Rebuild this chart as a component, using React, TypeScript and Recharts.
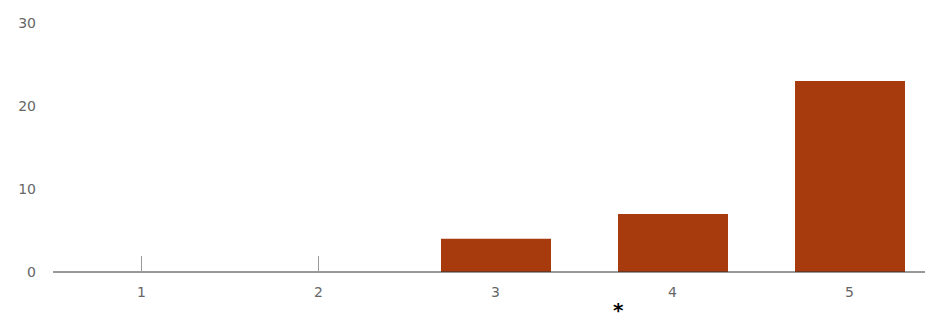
import React from "react";
import { BarChart, Bar, XAxis, YAxis } from "recharts";

const categories = ["1", "2", "3", "4", "5"];
const counts = [0, 0, 4, 7, 23];
const yTicks = [0, 10, 20, 30];

const data = categories.map((c, i) => ({ name: c, value: counts[i] }));

const FONT = "DejaVu Sans, sans-serif";
const tickStyle = { fontFamily: FONT, fontSize: 14, fill: "#666" };

const TICK_LEN = 16;
const TICK_GAP = 15;

function XTick(props: any) {
  const { x, y, payload, index } = props;
  const axisY = y - TICK_GAP;
  const showLine = counts[index] === 0;
  return (
    <g>
      {showLine && (
        <line x1={x} x2={x} y1={axisY - TICK_LEN} y2={axisY} stroke="#999" strokeWidth={1} />
      )}
      <text x={x} y={y} dy="0.71em" textAnchor="middle" fontFamily={FONT} fontSize={14} fill="#666">
        {payload.value}
      </text>
    </g>
  );
}

export default function App() {
  return (
    <div style={{ position: "fixed", left: 0, top: 0, width: 925, height: 318, overflow: "hidden", background: "#fff" }}>
      <BarChart
        width={938}
        height={318}
        data={data}
        margin={{ top: 23, right: 0, left: 0, bottom: 16 }}
        barCategoryGap={0}
      >
        <YAxis
          width={53}
          domain={[0, 30]}
          ticks={yTicks}
          axisLine={false}
          tickLine={false}
          tickSize={0}
          tickMargin={17}
          tick={tickStyle}
        />
        <XAxis
          dataKey="name"
          height={30}
          axisLine={{ stroke: "#333", strokeWidth: 1 }}
          tickLine={false}
          tickSize={0}
          tickMargin={TICK_GAP}
          tick={<XTick />}
        />
        <Bar dataKey="value" fill="#A83B0E" barSize={110} isAnimationActive={false} />
      </BarChart>
      <div
        style={{
          position: "absolute",
          left: 613,
          top: 302,
          fontFamily: FONT,
          fontSize: 20,
          fontWeight: "bold",
          lineHeight: "16px",
          color: "#000",
        }}
      >
        *
      </div>
    </div>
  );
}
